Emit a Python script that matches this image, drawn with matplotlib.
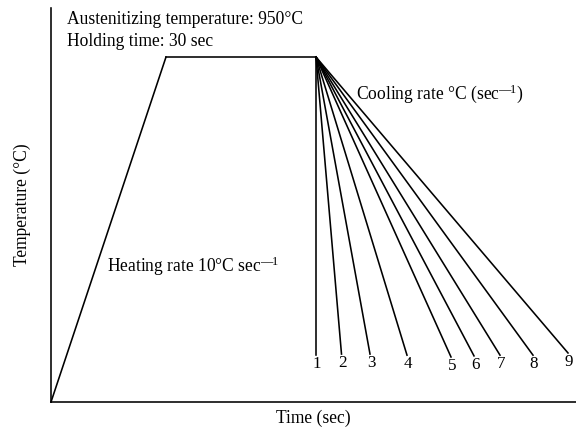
import matplotlib
matplotlib.use("Agg")
import matplotlib.pyplot as plt

plt.rcParams['font.family'] = ['Liberation Serif', 'DejaVu Serif']
plt.rcParams['mathtext.fontset'] = 'custom'
plt.rcParams['mathtext.rm'] = 'Liberation Serif'
plt.rcParams['mathtext.it'] = 'Liberation Serif:italic'

# Schematic heat-treatment cycle (arbitrary time units, °C)
heat_time = [0, 23]
heat_temp = [0, 950]
hold_time = [23, 53]
hold_temp = [950, 950]
cool_labels = ['1', '2', '3', '4', '5', '6', '7', '8', '9']
cool_end_time = [53, 58.1, 63.8, 71.2, 80.0, 84.6, 89.8, 96.4, 103.4]
cool_end_temp = [129, 132, 132, 129, 124, 127, 129, 129, 135]

fig = plt.figure(figsize=(8, 6), dpi=72)
ax = fig.add_axes([51/576, 30/432, 525/576, 394/432])
ax.set_xlim(0, 105)
ax.set_ylim(0, 1085)
for s in ['top', 'right']:
    ax.spines[s].set_visible(False)
for s in ['left', 'bottom']:
    ax.spines[s].set_linewidth(1.6)
ax.set_xticks([])
ax.set_yticks([])

lw = 1.6
ax.plot(heat_time, heat_temp, color='black', lw=lw, clip_on=False)
ax.plot(hold_time, hold_temp, color='black', lw=lw)
for lab, t, T in zip(cool_labels, cool_end_time, cool_end_temp):
    ax.plot([hold_time[-1], t], [hold_temp[-1], T], color='black', lw=lw)
    ax.annotate(lab, (t, T), xytext=(1, -1), textcoords='offset points',
                ha='center', va='top', fontsize=17)

fs = 17.5
sup = '$^{\u2014\\!1}$'
ax.text(67/576, 1 - 20/432, 'Austenitizing temperature: 950°C', transform=fig.transFigure,
        ha='left', va='center', fontsize=fs)
ax.text(67/576, 1 - 41/432, 'Holding time: 30 sec', transform=fig.transFigure,
        ha='left', va='center', fontsize=fs)
ax.text(356/576, 1 - 94/432, 'Cooling rate °C (sec' + sup + ')', transform=fig.transFigure,
        ha='left', va='center', fontsize=fs)
ax.text(107/576, 1 - 266/432, 'Heating rate 10°C sec' + sup, transform=fig.transFigure,
        ha='left', va='center', fontsize=fs)

fig.text(22/576, 1 - 205/432, 'Temperature (°C)', rotation=90, ha='center', va='center', fontsize=fs)
fig.text(313/576, 1 - 418/432, 'Time (sec)', ha='center', va='center', fontsize=fs)

fig.savefig('out.png', dpi=72)
